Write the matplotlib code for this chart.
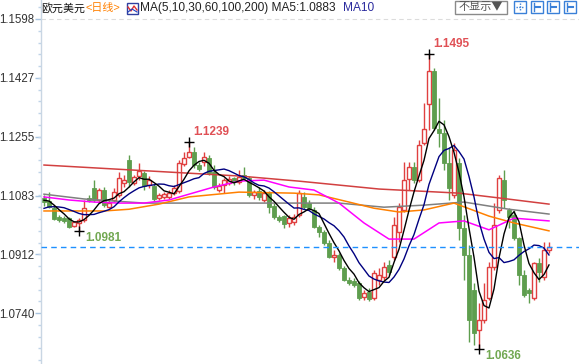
import numpy as np
import matplotlib
matplotlib.use('Agg')
import matplotlib.pyplot as plt
from matplotlib.patches import Rectangle
from matplotlib.lines import Line2D
import matplotlib.ticker as mticker

# ---------------- data (daily EUR/USD candles) ----------------
opens = [
    1.1076, 1.1067, 1.1046, 1.1020, 1.1017, 1.1017, 1.0994, 1.1003, 1.1012, 1.1076,
    1.1105, 1.1070, 1.1099, 1.1049, 1.1070, 1.1085, 1.1120, 1.1187, 1.1120, 1.1140,
    1.1149, 1.1114, 1.1111, 1.1076, 1.1079, 1.1079, 1.1090, 1.1096, 1.1175, 1.1195,
    1.1210, 1.1172, 1.1181, 1.1192, 1.1152, 1.1099, 1.1114, 1.1120, 1.1134, 1.1122,
    1.1143, 1.1134, 1.1085, 1.1096, 1.1070, 1.1090, 1.1052, 1.1020, 1.1023, 1.1003,
    1.1006, 1.1026, 1.1079, 1.1061, 1.1041, 1.0991, 1.0977, 1.0945, 1.0904, 1.0910,
    1.0872, 1.0837, 1.0834, 1.0828, 1.0787, 1.0802, 1.0784, 1.0837, 1.0845, 1.0880,
    1.0904, 1.0977, 1.1041, 1.1131, 1.1166, 1.1128, 1.1236, 1.1350, 1.1446, 1.1277,
    1.1265, 1.1178, 1.1085, 1.1178, 1.0988, 1.0910, 1.0807, 1.0691, 1.0720, 1.0784,
    1.0875, 1.1041, 1.1128, 1.1041, 1.1026, 1.0959, 1.0851, 1.0807, 1.0784, 1.0886,
    1.0845, 1.0924]
highs = [
    1.1085, 1.1093, 1.1052, 1.1026, 1.1023, 1.1020, 1.1009, 1.1017, 1.1070, 1.1085,
    1.1128, 1.1105, 1.1108, 1.1070, 1.1105, 1.1152, 1.1143, 1.1201, 1.1143, 1.1178,
    1.1155, 1.1140, 1.1117, 1.1090, 1.1093, 1.1099, 1.1114, 1.1187, 1.1210, 1.1239,
    1.1225, 1.1181, 1.1210, 1.1201, 1.1172, 1.1120, 1.1134, 1.1140, 1.1137, 1.1158,
    1.1166, 1.1140, 1.1099, 1.1108, 1.1099, 1.1096, 1.1061, 1.1026, 1.1026, 1.1026,
    1.1029, 1.1099, 1.1093, 1.1070, 1.1049, 1.0997, 1.0983, 1.0953, 1.0924, 1.0915,
    1.0878, 1.0845, 1.0842, 1.0834, 1.0807, 1.0813, 1.0866, 1.0872, 1.0889, 1.0895,
    1.1020, 1.1061, 1.1181, 1.1181, 1.1181, 1.1245, 1.1353, 1.1495, 1.1455, 1.1368,
    1.1303, 1.1225, 1.1236, 1.1192, 1.1026, 1.0939, 1.0828, 1.0769, 1.0828, 1.0889,
    1.1061, 1.1143, 1.1158, 1.1046, 1.1041, 1.0962, 1.0866, 1.0813, 1.0889, 1.0901,
    1.0948, 1.0948]
lows = [
    1.1052, 1.1046, 1.1012, 1.1006, 1.1003, 1.0988, 1.0991, 1.0981, 1.1006, 1.1064,
    1.1064, 1.1064, 1.1049, 1.1046, 1.1064, 1.1079, 1.1108, 1.1108, 1.1114, 1.1128,
    1.1099, 1.1105, 1.1067, 1.1070, 1.1073, 1.1073, 1.1085, 1.1090, 1.1169, 1.1192,
    1.1163, 1.1155, 1.1169, 1.1143, 1.1102, 1.1093, 1.1090, 1.1114, 1.1114, 1.1117,
    1.1128, 1.1079, 1.1073, 1.1070, 1.1064, 1.1032, 1.1014, 1.1006, 1.0988, 1.0991,
    1.0997, 1.1020, 1.1043, 1.1041, 1.0988, 1.0962, 1.0939, 1.0901, 1.0889, 1.0866,
    1.0834, 1.0822, 1.0816, 1.0778, 1.0778, 1.0775, 1.0778, 1.0822, 1.0837, 1.0851,
    1.0895, 1.0948, 1.1035, 1.1099, 1.1120, 1.1122, 1.1230, 1.1274, 1.1274, 1.1225,
    1.1158, 1.1070, 1.1076, 1.0953, 1.0837, 1.0656, 1.0647, 1.0636, 1.0711, 1.0778,
    1.0866, 1.1032, 1.1046, 1.0988, 1.0953, 1.0822, 1.0787, 1.0769, 1.0778, 1.0831,
    1.0837, 1.0915]
closes = [
    1.1064, 1.1049, 1.1014, 1.1012, 1.1009, 1.0991, 1.1006, 1.1012, 1.1046, 1.1070,
    1.1070, 1.1099, 1.1055, 1.1061, 1.1093, 1.1134, 1.1128, 1.1122, 1.1137, 1.1155,
    1.1111, 1.1128, 1.1073, 1.1085, 1.1087, 1.1090, 1.1105, 1.1178, 1.1192, 1.1210,
    1.1172, 1.1160, 1.1195, 1.1149, 1.1108, 1.1111, 1.1128, 1.1131, 1.1122, 1.1137,
    1.1134, 1.1085, 1.1093, 1.1079, 1.1090, 1.1049, 1.1020, 1.1012, 1.1000, 1.1017,
    1.1020, 1.1090, 1.1049, 1.1046, 1.0991, 1.0977, 1.0945, 1.0904, 1.0910, 1.0872,
    1.0837, 1.0828, 1.0822, 1.0784, 1.0799, 1.0781, 1.0857, 1.0851, 1.0875, 1.0860,
    1.0997, 1.1049, 1.1128, 1.1166, 1.1128, 1.1230, 1.1277, 1.1446, 1.1280, 1.1265,
    1.1178, 1.1105, 1.1216, 1.0988, 1.0910, 1.0720, 1.0682, 1.0720, 1.0778, 1.0875,
    1.0997, 1.1134, 1.1070, 1.1020, 1.0959, 1.0851, 1.0793, 1.0800, 1.0886, 1.0860,
    1.0924, 1.0933]
# closes preceding the visible window (for MA5 / MA10 start)
pre_closes = [1.1005, 1.1010, 1.1020, 1.1030, 1.1045, 1.1060, 1.1072, 1.1080, 1.1070]

# longer moving averages (candle index, value)
ma30_idx = [0, 5, 10, 15, 20, 25, 29, 34, 39, 44, 49, 54, 59, 64, 69, 74, 79, 84, 89, 94, 101]
ma30_val = [1.1079, 1.1070, 1.1064, 1.1061, 1.1061, 1.1070, 1.1087, 1.1108, 1.1125, 1.1128, 1.1108,
            1.1099, 1.1061, 1.1003, 1.0956, 1.0956, 1.1003, 1.1009, 1.0983, 1.1017, 1.1009]
ma60_idx = [0, 12, 17, 23, 29, 39, 50, 55, 61, 66, 71, 76, 82, 89, 94, 101]
ma60_val = [1.1038, 1.1038, 1.1043, 1.1058, 1.1079, 1.1093, 1.1090, 1.1085, 1.1064, 1.1046, 1.1035,
            1.1041, 1.1061, 1.1023, 1.1003, 1.0980]
ma100_idx = [0, 8, 20, 39, 59, 68, 76, 84, 93, 101]
ma100_val = [1.1087, 1.1073, 1.1061, 1.1061, 1.1061, 1.1049, 1.1055, 1.1064, 1.1043, 1.1029]
ma200_idx = [0, 17, 39, 51, 67, 83, 91, 101]
ma200_val = [1.1172, 1.1158, 1.1140, 1.1125, 1.1102, 1.1090, 1.1076, 1.1058]

ytick_vals = [1.0740, 1.0912, 1.1083, 1.1255, 1.1427, 1.1598]
title_name = "欧元美元"
title_period = "<日线>"
title_ma = "MA(5,10,30,60,100,200) MA5:1.0883"
title_ma10 = "MA10"
hi_labels = [(29, 1.1239), (77, 1.1495)]
lo_labels = [(7, 1.0981), (87, 1.0636)]

# ---------------- figure ----------------
W, H = 579, 364
fig = plt.figure(figsize=(W / 100, H / 100), dpi=100)
fig.patch.set_facecolor('white')
ax = fig.add_axes([41 / W, 0, (W - 41) / W, 1])
ax.set_xlim(-0.6, 107)
ax.set_ylim(1.05916, 1.16534)

RED = '#e04040'
GREEN = '#5e9e4e'

n = len(closes)
x = np.arange(n)
bw = 0.7
for i in range(n):
    o, h, l, c = opens[i], highs[i], lows[i], closes[i]
    top, bot = max(o, c), min(o, c)
    if c >= o:
        ax.vlines(i, top, h, color=RED, lw=1, zorder=2)
        ax.vlines(i, l, bot, color=RED, lw=1, zorder=2)
        ax.add_patch(Rectangle((i - bw / 2, bot), bw, max(top - bot, 0.00005),
                               facecolor='white', edgecolor=RED, lw=1, zorder=2.5))
    else:
        ax.vlines(i, l, h, color=GREEN, lw=1, zorder=2)
        ax.add_patch(Rectangle((i - bw / 2, bot), bw, max(top - bot, 0.00005),
                               facecolor=GREEN, edgecolor=GREEN, lw=0.6, zorder=2.5))

allc = np.array(pre_closes + closes)
npre = len(pre_closes)
ma5 = np.convolve(allc, np.ones(5) / 5, mode='valid')[npre - 4:]
ma10 = np.convolve(allc, np.ones(10) / 10, mode='valid')[npre - 9:]

ax.plot(ma200_idx, ma200_val, color='#d24040', lw=1.1, zorder=3)
ax.plot(ma100_idx, ma100_val, color='#7f7f7f', lw=1.1, zorder=3)
ax.plot(ma60_idx, ma60_val, color='#ff8000', lw=1.1, zorder=3)
ax.plot(ma30_idx, ma30_val, color='#ff00ff', lw=1.1, zorder=3)
ax.plot(x, ma10, color='#000080', lw=1.0, zorder=3.2)
ax.plot(x, ma5, color='#000000', lw=1.0, zorder=3.3)

# top dashed grid line and last-price line
ax.axhline(1.1598, color='#dcdcdc', lw=0.8, ls=(0, (4, 3)), zorder=1)
ax.axhline(closes[-1], color='#1e90ff', lw=1.0, ls=(0, (4, 3)), zorder=3.5)

# high / low markers
for i, v in hi_labels:
    ax.plot(i, v, marker='+', color='black', ms=6.5, mew=1, zorder=4)
    ax.annotate(f"{v:.4f}", (i, v), xytext=(4, 4), textcoords='offset pixels',
                color='#e05055', fontsize=8.5, fontweight='bold', va='bottom', ha='left',
                family='Liberation Sans')
for i, v in lo_labels:
    ax.plot(i, v, marker='+', color='black', ms=6.5, mew=1, zorder=4)
    ax.annotate(f"{v:.4f}", (i, v), xytext=(6, -1), textcoords='offset pixels',
                color='#72a852', fontsize=8.5, fontweight='bold', va='top', ha='left',
                family='Liberation Sans')

# axes styling
for s in ['top', 'right', 'bottom']:
    ax.spines[s].set_visible(False)
ax.spines['left'].set_color('#c9d6e3')
ax.spines['left'].set_linewidth(1)
ax.set_xticks([])
ax.yaxis.set_major_locator(mticker.FixedLocator(ytick_vals))
ax.yaxis.set_major_formatter(mticker.FormatStrFormatter('%.4f'))
minors = []
step = (ytick_vals[-1] - ytick_vals[0]) / 25
for k in range(-5, 32):
    minors.append(ytick_vals[0] + k * step)
ax.yaxis.set_minor_locator(mticker.FixedLocator(minors))
ax.tick_params(axis='y', which='major', direction='out', length=4, width=1,
               color='#a8c4e0', labelcolor='#333333', labelsize=8.3, pad=1)
ax.tick_params(axis='y', which='minor', direction='out', length=2, width=1,
               color='#c0d4e8')
for lab in ax.get_yticklabels():
    lab.set_family('Liberation Sans')

# ---------------- header ----------------
def fx(px):
    return px / W


def fy(py):
    return 1 - py / H


cjk = ['Noto Sans CJK SC', 'DejaVu Sans']
lat = ['Liberation Sans', 'Noto Sans CJK SC']
fig.text(fx(41), fy(8), title_name, family=cjk, fontsize=7.9, color='#111111', va='center')
fig.text(fx(85), fy(8), title_period, family=lat, fontsize=7.9, color='#ff8000', va='center')
# small MA icon
fig.add_artist(Rectangle((fx(127), fy(14)), 11 / W, 11 / H, transform=fig.transFigure,
                         facecolor='white', edgecolor='#3040a0', lw=1))
fig.add_artist(Line2D([fx(128), fx(131), fx(134), fx(137)], [fy(7), fy(11), fy(6), fy(10)],
                      transform=fig.transFigure, color='#e03030', lw=1))
fig.add_artist(Line2D([fx(128), fx(132), fx(137)], [fy(12), fy(9), fy(12)],
                      transform=fig.transFigure, color='#2040c0', lw=0.8))
fig.text(fx(140), fy(8), title_ma, family=lat, fontsize=8.6, color='#222222', va='center')
fig.text(fx(343), fy(8), title_ma10, family=lat, fontsize=8.6, color='#2b2b9e', va='center')

# right-hand toolbar
fig.add_artist(Rectangle((fx(455), fy(13.5)), 52 / W, 13 / H, transform=fig.transFigure,
                         facecolor='white', edgecolor='#8a8a8a', lw=1))
fig.text(fx(459), fy(7), "不显示▼", family=cjk, fontsize=8, color='#555555', va='center')
for k, px in enumerate([514, 531, 547, 564]):
    fig.add_artist(Rectangle((fx(px), fy(13)), 12 / W, 12 / H, transform=fig.transFigure,
                             facecolor='white', edgecolor='#3a80d8', lw=1))
    cx = px + 6
    if k == 0:
        fig.add_artist(Line2D([fx(px + 2), fx(px + 10)], [fy(7), fy(7)], transform=fig.transFigure,
                              color='#3a80d8', lw=1, ls=(0, (1, 1))))
        fig.add_artist(Line2D([fx(cx), fx(cx)], [fy(3), fy(11)], transform=fig.transFigure,
                              color='#3a80d8', lw=1, ls=(0, (1, 1))))
    else:
        fig.add_artist(Line2D([fx(px + 3), fx(px + 3)], [fy(3), fy(11)], transform=fig.transFigure,
                              color='#3a80d8', lw=1))
        fig.add_artist(Line2D([fx(px + 5), fx(px + 9)], [fy(7), fy(7)], transform=fig.transFigure,
                              color='#3a80d8', lw=1.5))

fig.savefig('out.png', dpi=100, facecolor='white')
